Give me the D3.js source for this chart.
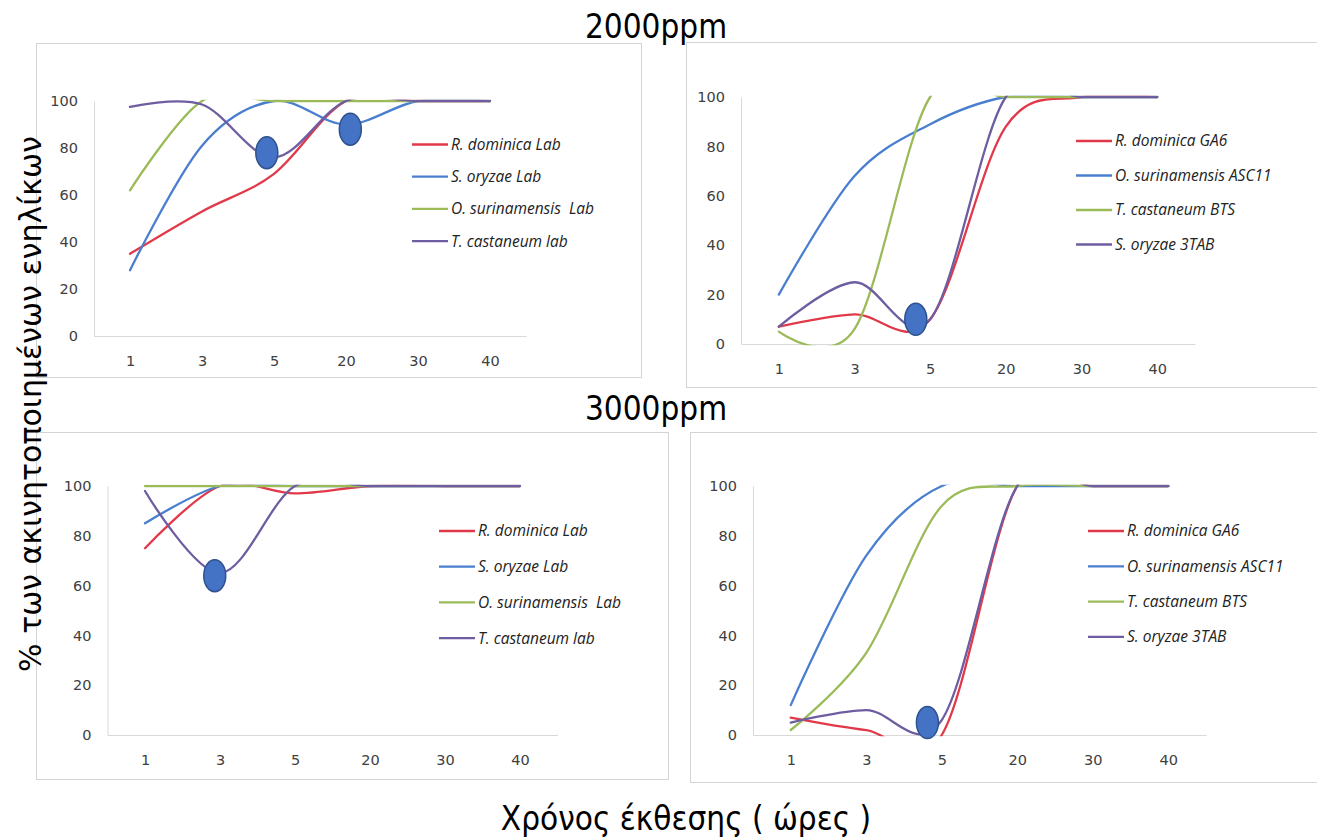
<!DOCTYPE html>
<html>
<head>
<meta charset="utf-8">
<script src="https://cdn.jsdelivr.net/npm/d3@7"></script>
<style>
  body { margin: 0; background: #fff; }
</style>
</head>
<body>
<svg id="chart" width="1317" height="838"></svg>
<script>
'use strict';

// exposure time categories (hours)
var HOURS = ['1', '3', '5', '20', '30', '40'];
var Y_TICKS = [0, 20, 40, 60, 80, 100];

var LAB_NAMES = ['R. dominica Lab', 'S. oryzae Lab', 'O. surinamensis  Lab', 'T. castaneum lab'];
var FIELD_NAMES = ['R. dominica GA6', 'O. surinamensis ASC11', 'T. castaneum BTS', 'S. oryzae 3TAB'];
var LINE_COLORS = ['#e2394a', '#4a7fcf', '#9bbb59', '#6e5da0'];

// % immobilised adults, 2000 ppm
var LAB_2000 = [
  [35, 53, 69, 100, 100, 100],
  [28, 81, 100, 90, 100, 100],
  [62, 100, 100, 100, 100, 100],
  [97.5, 98.5, 76, 100, 100, 100]
];
var FIELD_2000 = [
  [7, 12, 10, 88, 100, 100],
  [20, 68, 89, 100, 100, 100],
  [5, 6, 100, 100, 100, 100],
  [7, 25, 10, 100, 100, 100]
];

// % immobilised adults, 3000 ppm
var LAB_3000 = [
  [75, 100, 97, 100, 100, 100],
  [85, 100, 100, 100, 100, 100],
  [100, 100, 100, 100, 100, 100],
  [98, 65, 100, 100, 100, 100]
];
var FIELD_3000 = [
  [7, 2, 0, 100, 100, 100],
  [12, 72, 100, 100, 100, 100],
  [2, 33, 92, 100, 100, 100],
  [5, 10, 6, 100, 100, 100]
];

// highlight ellipses: [category position, value]
var MARKS_LAB_2000 = [[1.9, 78], [3.06, 88]];
var MARKS_FIELD_2000 = [[1.81, 10]];
var MARKS_LAB_3000 = [[0.93, 64]];
var MARKS_FIELD_3000 = [[1.81, 5]];

var TICK_FONT = '"DejaVu Sans", sans-serif';
var LEGEND_FONT = '"Open Sans", "DejaVu Sans", sans-serif';
var TITLE_FONT = '"DejaVu Sans Condensed", "DejaVu Sans", sans-serif';

var PANELS = [
  { id: 'p1', names: LAB_NAMES, values: LAB_2000, marks: MARKS_LAB_2000,
    box: [36, 43, 641, 377], left: 94, right: 526, top: 101, bottom: 336,
    legendX: 412, legendY: 144.5, legendStep: 32.2 },
  { id: 'p2', names: FIELD_NAMES, values: FIELD_2000, marks: MARKS_FIELD_2000,
    box: [686, 42, 1330, 387], left: 741, right: 1195, top: 97, bottom: 344,
    legendX: 1076, legendY: 141, legendStep: 34.5 },
  { id: 'p3', names: LAB_NAMES, values: LAB_3000, marks: MARKS_LAB_3000,
    box: [36, 432, 668, 779], left: 107.5, right: 557.5, top: 486, bottom: 735,
    legendX: 439, legendY: 531, legendStep: 35.7 },
  { id: 'p4', names: FIELD_NAMES, values: FIELD_3000, marks: MARKS_FIELD_3000,
    box: [690, 432, 1330, 782], left: 753, right: 1206, top: 486, bottom: 735,
    legendX: 1088, legendY: 531, legendStep: 35.3 }
];

var svg = d3.select('#chart');
var defs = svg.append('defs');

PANELS.forEach(drawPanel);

// shared titles
svg.append('text')
  .attr('x', 656).attr('y', 38)
  .attr('text-anchor', 'middle')
  .style('font-family', TITLE_FONT).style('font-size', '33px')
  .text('2000ppm');

svg.append('text')
  .attr('x', 656).attr('y', 420)
  .attr('text-anchor', 'middle')
  .style('font-family', TITLE_FONT).style('font-size', '33px')
  .text('3000ppm');

svg.append('text')
  .attr('transform', 'translate(41, 404) rotate(-90)')
  .attr('text-anchor', 'middle')
  .style('font-family', TICK_FONT).style('font-size', '30px')
  .text('% των ακινητοποιημένων ενηλίκων');

svg.append('text')
  .attr('x', 686).attr('y', 830)
  .attr('text-anchor', 'middle')
  .style('font-family', TITLE_FONT).style('font-size', '33px')
  .text('Χρόνος έκθεσης ( ώρες )');


function drawPanel(p) {
  var g = svg.append('g');

  // chart frame
  g.append('rect')
    .attr('x', p.box[0] + 0.5).attr('y', p.box[1] + 0.5)
    .attr('width', p.box[2] - p.box[0]).attr('height', p.box[3] - p.box[1])
    .style('fill', '#fff')
    .style('stroke', '#d4d4d4').style('stroke-width', 1);

  var x = d3.scaleLinear().domain([-0.5, HOURS.length - 0.5]).range([p.left, p.right]);
  var y = d3.scaleLinear().domain([0, 100]).range([p.bottom, p.top]);

  var xAxis = d3.axisBottom(x)
    .tickValues(d3.range(HOURS.length))
    .tickFormat(function(i) { return HOURS[i]; })
    .tickSize(0).tickSizeOuter(0).tickPadding(20);

  var yAxis = d3.axisLeft(y)
    .tickValues(Y_TICKS)
    .tickSize(0).tickSizeOuter(0).tickPadding(16);

  g.append('g')
    .attr('transform', 'translate(0,' + p.bottom + ')')
    .call(xAxis)
    .call(styleAxis);

  g.append('g')
    .attr('transform', 'translate(' + p.left + ',0)')
    .call(yAxis)
    .call(styleAxis);

  // Excel clips the smoothed lines at the axis limits
  defs.append('clipPath')
    .attr('id', 'clip-' + p.id)
    .append('rect')
    .attr('x', p.left).attr('y', p.top - 1.2)
    .attr('width', p.right - p.left).attr('height', p.bottom - p.top + 2.4);

  var line = d3.line()
    .x(function(d, i) { return x(i); })
    .y(function(d) { return y(d); })
    .curve(d3.curveCardinal.tension(0));

  g.append('g')
    .attr('clip-path', 'url(#clip-' + p.id + ')')
    .selectAll('path')
    .data(p.values)
    .enter()
    .append('path')
    .attr('d', line)
    .style('fill', 'none')
    .style('stroke', function(d, i) { return LINE_COLORS[i]; })
    .style('stroke-width', 2.3)
    .style('stroke-linecap', 'round');

  g.selectAll('ellipse')
    .data(p.marks)
    .enter()
    .append('ellipse')
    .attr('cx', function(d) { return x(d[0]); })
    .attr('cy', function(d) { return y(d[1]); })
    .attr('rx', 11)
    .attr('ry', 16)
    .style('fill', '#4472c4')
    .style('stroke', '#2f528f')
    .style('stroke-width', 1.5);

  // legend
  var legend = g.selectAll('g.legend')
    .data(p.names)
    .enter()
    .append('g')
    .attr('class', 'legend')
    .attr('transform', function(d, i) {
      return 'translate(' + p.legendX + ',' + (p.legendY + i * p.legendStep) + ')';
    });

  legend.append('line')
    .attr('x1', 0).attr('x2', 36)
    .style('stroke', function(d, i) { return LINE_COLORS[i]; })
    .style('stroke-width', 2.3);

  legend.append('text')
    .attr('x', 39).attr('dy', '0.35em')
    .style('font-family', LEGEND_FONT)
    .style('font-style', 'italic')
    .style('font-size', '15.5px')
    .style('fill', '#222')
    .style('white-space', 'pre')
    .text(function(d) { return d; });
}

function styleAxis(sel) {
  sel.select('.domain').style('stroke', '#d9d9d9').style('stroke-width', 1);
  sel.selectAll('text')
    .style('font-family', TICK_FONT)
    .style('font-size', '14.5px')
    .style('fill', '#404040');
}
</script>
</body>
</html>
